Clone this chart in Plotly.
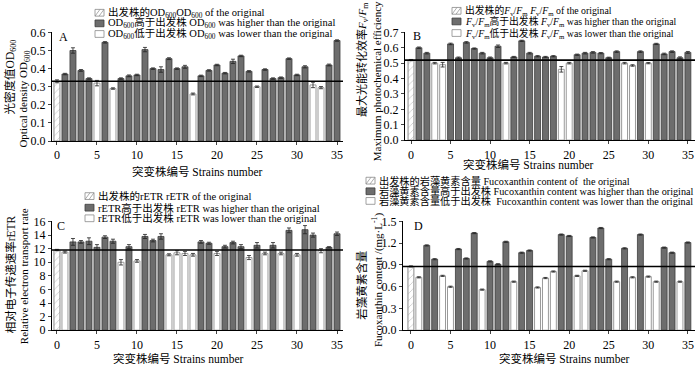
import plotly.graph_objects as go

strains = list(range(36))

od600 = [0.33, 0.37, 0.50, 0.39, 0.345, 0.32, 0.545, 0.29, 0.345, 0.36, 0.365, 0.505,
         0.40, 0.395, 0.455, 0.40, 0.41, 0.26, 0.36, 0.39, 0.42, 0.375, 0.44, 0.47,
         0.385, 0.30, 0.395, 0.345, 0.35, 0.455, 0.365, 0.41, 0.31, 0.295, 0.42, 0.555]
od600_err = [0.008, 0.004, 0.015, 0.005, 0.004, 0.015, 0.004, 0.004, 0.004, 0.005, 0.004, 0.012,
             0.004, 0.015, 0.005, 0.004, 0.008, 0.005, 0.004, 0.004, 0.004, 0.004, 0.012, 0.004,
             0.004, 0.004, 0.004, 0.004, 0.004, 0.004, 0.004, 0.006, 0.015, 0.006, 0.005, 0.004]

fvfm = [0.52, 0.60, 0.565, 0.50, 0.49, 0.625, 0.535, 0.635, 0.595, 0.565, 0.535, 0.61,
        0.50, 0.54, 0.645, 0.565, 0.545, 0.54, 0.545, 0.46, 0.50, 0.555, 0.565, 0.57,
        0.565, 0.535, 0.575, 0.50, 0.485, 0.575, 0.50, 0.625, 0.56, 0.575, 0.535, 0.57]
fvfm_err = [0.004, 0.005, 0.005, 0.005, 0.015, 0.005, 0.005, 0.005, 0.004, 0.005, 0.005, 0.008,
            0.005, 0.004, 0.004, 0.005, 0.004, 0.004, 0.004, 0.018, 0.005, 0.004, 0.005, 0.005,
            0.004, 0.004, 0.005, 0.005, 0.005, 0.005, 0.004, 0.004, 0.005, 0.005, 0.006, 0.006]

retr = [11.8, 11.5, 13.0, 13.0, 13.1, 12.2, 13.7, 13.1, 10.0, 12.3, 10.2, 13.8,
        13.2, 13.8, 11.1, 11.4, 11.3, 11.1, 13.0, 12.8, 11.3, 12.3, 12.9, 12.3,
        10.7, 12.5, 11.3, 12.5, 11.3, 14.7, 11.1, 14.8, 14.0, 11.7, 12.2, 14.2]
retr_err = [0.1, 0.15, 0.5, 0.2, 0.5, 0.4, 0.2, 0.3, 0.4, 0.3, 0.2, 0.3,
            0.2, 0.4, 0.15, 0.3, 0.3, 0.2, 0.2, 0.15, 0.3, 0.2, 0.2, 0.3,
            0.3, 0.4, 0.2, 0.4, 0.2, 0.35, 0.2, 0.6, 0.3, 0.3, 0.1, 0.25]

fuco = [0.88, 0.73, 1.17, 0.98, 0.75, 0.60, 1.12, 0.99, 1.34, 0.56, 0.95, 0.91,
        1.22, 0.67, 1.07, 1.10, 0.59, 0.72, 0.81, 1.32, 1.30, 0.75, 0.82, 1.28,
        1.41, 0.98, 0.67, 1.13, 0.73, 1.32, 0.74, 0.67, 1.14, 1.07, 0.67, 1.21]
fuco_err = [0.008] * 36

x_ticks = [0, 5, 10, 15, 20, 25, 30, 35]
y_ticks_a = [0.0, 0.1, 0.2, 0.3, 0.4, 0.5, 0.6]
y_ticks_b = [0.0, 0.1, 0.2, 0.3, 0.4, 0.5, 0.6, 0.7]
y_ticks_c = [0, 2, 4, 6, 8, 10, 12, 14, 16]
y_ticks_d = [0.0, 0.3, 0.6, 0.9, 1.2, 1.5]

SERIF = "Liberation Serif, 'Noto Sans CJK SC', serif"
DARK = "#6d6d6d"

panels = [
    dict(vals=od600, err=od600_err, yt=y_ticks_a, fmt="{:.1f}",
         xdom=[52/700, 343/700], xr=[-0.62, 35.75], ydom=[1-140/371, 1-27/371]),
    dict(vals=fvfm, err=fvfm_err, yt=y_ticks_b, fmt="{:.1f}",
         xdom=[405/700, 695/700], xr=[-0.76, 35.9], ydom=[1-139/371, 1-27/371]),
    dict(vals=retr, err=retr_err, yt=y_ticks_c, fmt="{:d}",
         xdom=[52/700, 343/700], xr=[-0.62, 35.75], ydom=[1-336/371, 1-223/371]),
    dict(vals=fuco, err=fuco_err, yt=y_ticks_d, fmt="{:.1f}",
         xdom=[403/700, 695/700], xr=[-1.0, 35.9], ydom=[1-336/371, 1-223/371]),
]

fig = go.Figure()
shapes = []
annotations = []
axes_layout = {}

def err_dict(arr):
    return dict(type="data", array=arr, color="#222", thickness=0.8, width=2)

for i, p in enumerate(panels):
    n = "" if i == 0 else str(i + 1)
    xa, ya = "x" + n, "y" + n
    v = p["vals"]
    e = p["err"]
    ref = v[0]
    hx = [s for s in strains[1:] if v[s] > ref]
    lx = [s for s in strains[1:] if v[s] <= ref]
    fig.add_trace(go.Bar(x=[0], y=[v[0]], width=0.75, xaxis=xa, yaxis=ya,
                         marker=dict(color="white", line=dict(color="#8a8a8a", width=1),
                                     pattern=dict(shape="/", fgcolor="#8a8a8a", bgcolor="white",
                                                  size=5, solidity=0.15)),
                         error_y=err_dict([e[0]]), showlegend=False))
    fig.add_trace(go.Bar(x=hx, y=[v[s] for s in hx], width=0.75, xaxis=xa, yaxis=ya,
                         marker=dict(color=DARK, line=dict(color="#3c3c3c", width=0.8)),
                         error_y=err_dict([e[s] for s in hx]), showlegend=False))
    fig.add_trace(go.Bar(x=lx, y=[v[s] for s in lx], width=0.75, xaxis=xa, yaxis=ya,
                         marker=dict(color="white", line=dict(color="#9a9a9a", width=1)),
                         error_y=err_dict([e[s] for s in lx]), showlegend=False))
    yt = p["yt"]
    axes_layout["xaxis" + n] = dict(domain=p["xdom"], range=p["xr"], anchor=ya,
                                    tickmode="array", tickvals=x_ticks,
                                    ticktext=[str(t) for t in x_ticks],
                                    showline=True, linecolor="black", linewidth=1,
                                    ticks="outside", ticklen=3, showgrid=False, zeroline=False,
                                    showticklabels=True,
                                    tickfont=dict(family=SERIF, size=12, color="black"))
    axes_layout["yaxis" + n] = dict(domain=p["ydom"], range=[yt[0], yt[-1] * 1.003], anchor=xa,
                                    tickmode="array", tickvals=yt,
                                    ticktext=[p["fmt"].format(t) for t in yt],
                                    showline=True, linecolor="black", linewidth=1,
                                    ticks="outside", ticklen=3, showgrid=False, zeroline=False,
                                    showticklabels=True,
                                    tickfont=dict(family=SERIF, size=12, color="black"))
    shapes.append(dict(type="line", xref=xa + " domain", x0=0, x1=1,
                       yref=ya, y0=ref, y1=ref, line=dict(color="black", width=1.6)))

def px_ann(text, x, y, size=11, angle=0, xanchor="center"):
    annotations.append(dict(text=text, x=x/700, y=1-y/371, xref="paper", yref="paper",
                            showarrow=False, textangle=angle, xanchor=xanchor, yanchor="middle",
                            font=dict(family=SERIF, size=size, color="black")))

# panel letters
px_ann("A", 63, 32, 12)
px_ann("B", 417, 31, 12)
px_ann("C", 61, 228, 12)
px_ann("D", 418, 228, 12)

# x titles
xt = "突变株编号 Strains number"
px_ann(xt, 197, 172, 11.5)
px_ann(xt, 528, 164, 11.5)
px_ann(xt, 178, 365, 11.5)
px_ann(xt, 564, 365, 11.5)

# y titles
px_ann("光密度值OD<sub>600</sub>", 10, 74, 11.5, -90)
px_ann("Optical density OD<sub>600</sub>", 24, 97, 11, -90)
px_ann("最大光能转化效率<i>F</i><sub>v</sub>/<i>F</i><sub>m</sub>", 362, 56, 11, -90)
px_ann("Maximum photochemical efficiency", 377, 78, 11, -90)
px_ann("相对电子传递速率rETR", 10, 278, 11.5, -90)
px_ann("Relative electron transport rate", 24, 280, 11, -90)
px_ann("岩藻黄素含量", 362, 290, 11.5, -90)
px_ann("Fucoxanthin content /(mg·L<sup>-1</sup>)", 377, 284, 11, -90)

# legends (manual, compact)
FV = "<i>F</i><sub>v</sub>/<i>F</i><sub>m</sub>"
legends = [
    (95, [7, 18, 29], ["出发株的OD<sub>600</sub>OD<sub>600</sub> of the original",
                       "OD<sub>600</sub>高于出发株 OD<sub>600</sub> was higher than the original",
                       "OD<sub>600</sub>低于出发株 OD<sub>600</sub> was lower than the original"], 10.5),
    (452, [5, 16, 28], ["出发株的" + FV + " " + FV + " of the original",
                        FV + "高于出发株 " + FV + " was higher than the original",
                        FV + "低于出发株 " + FV + " was lower than the original"], 9.8),
    (85, [197, 209, 220], ["出发株的rETR rETR of the original",
                           "rETR高于出发株 rETR was higher than the original",
                           "rETR低于出发株 rETR was lower than the original"], 10.5),
    (366, [181, 192, 202], ["出发株的岩藻黄素含量 Fucoxanthin content of  the original",
                            "岩藻黄素含量高于出发株 Fucoxanthin content was higher than the original",
                            "岩藻黄素含量低于出发株  Fucoxanthin content was lower than the original"], 10.2),
]
for lx0, rows, texts, fs in legends:
    for k, (ry, t) in enumerate(zip(rows, texts)):
        x0, x1 = lx0 / 700, (lx0 + 9) / 700
        y0, y1 = 1 - (ry + 3.5) / 371, 1 - (ry - 3.5) / 371
        if k == 1:
            shapes.append(dict(type="rect", xref="paper", yref="paper", x0=x0, x1=x1, y0=y0, y1=y1,
                               fillcolor=DARK, line=dict(color="#3c3c3c", width=0.8)))
        else:
            shapes.append(dict(type="rect", xref="paper", yref="paper", x0=x0, x1=x1, y0=y0, y1=y1,
                               fillcolor="white", line=dict(color="#8a8a8a", width=0.8)))
            if k == 0:
                for d in (0, 4):
                    shapes.append(dict(type="line", xref="paper", yref="paper",
                                       x0=(lx0 + d) / 700, x1=(lx0 + d + 5) / 700,
                                       y0=y0, y1=y1, line=dict(color="#8a8a8a", width=0.7)))
        px_ann(t, lx0 + 11, ry, fs, 0, "left")

fig.update_layout(width=700, height=371, margin=dict(l=0, r=0, t=0, b=0),
                  paper_bgcolor="white", plot_bgcolor="white", barmode="overlay",
                  shapes=shapes, annotations=annotations, showlegend=False, **axes_layout)

fig.write_html("out.html", config={"displayModeBar": False},
               post_script="document.body.style.margin='0';document.body.style.overflow='hidden';")
